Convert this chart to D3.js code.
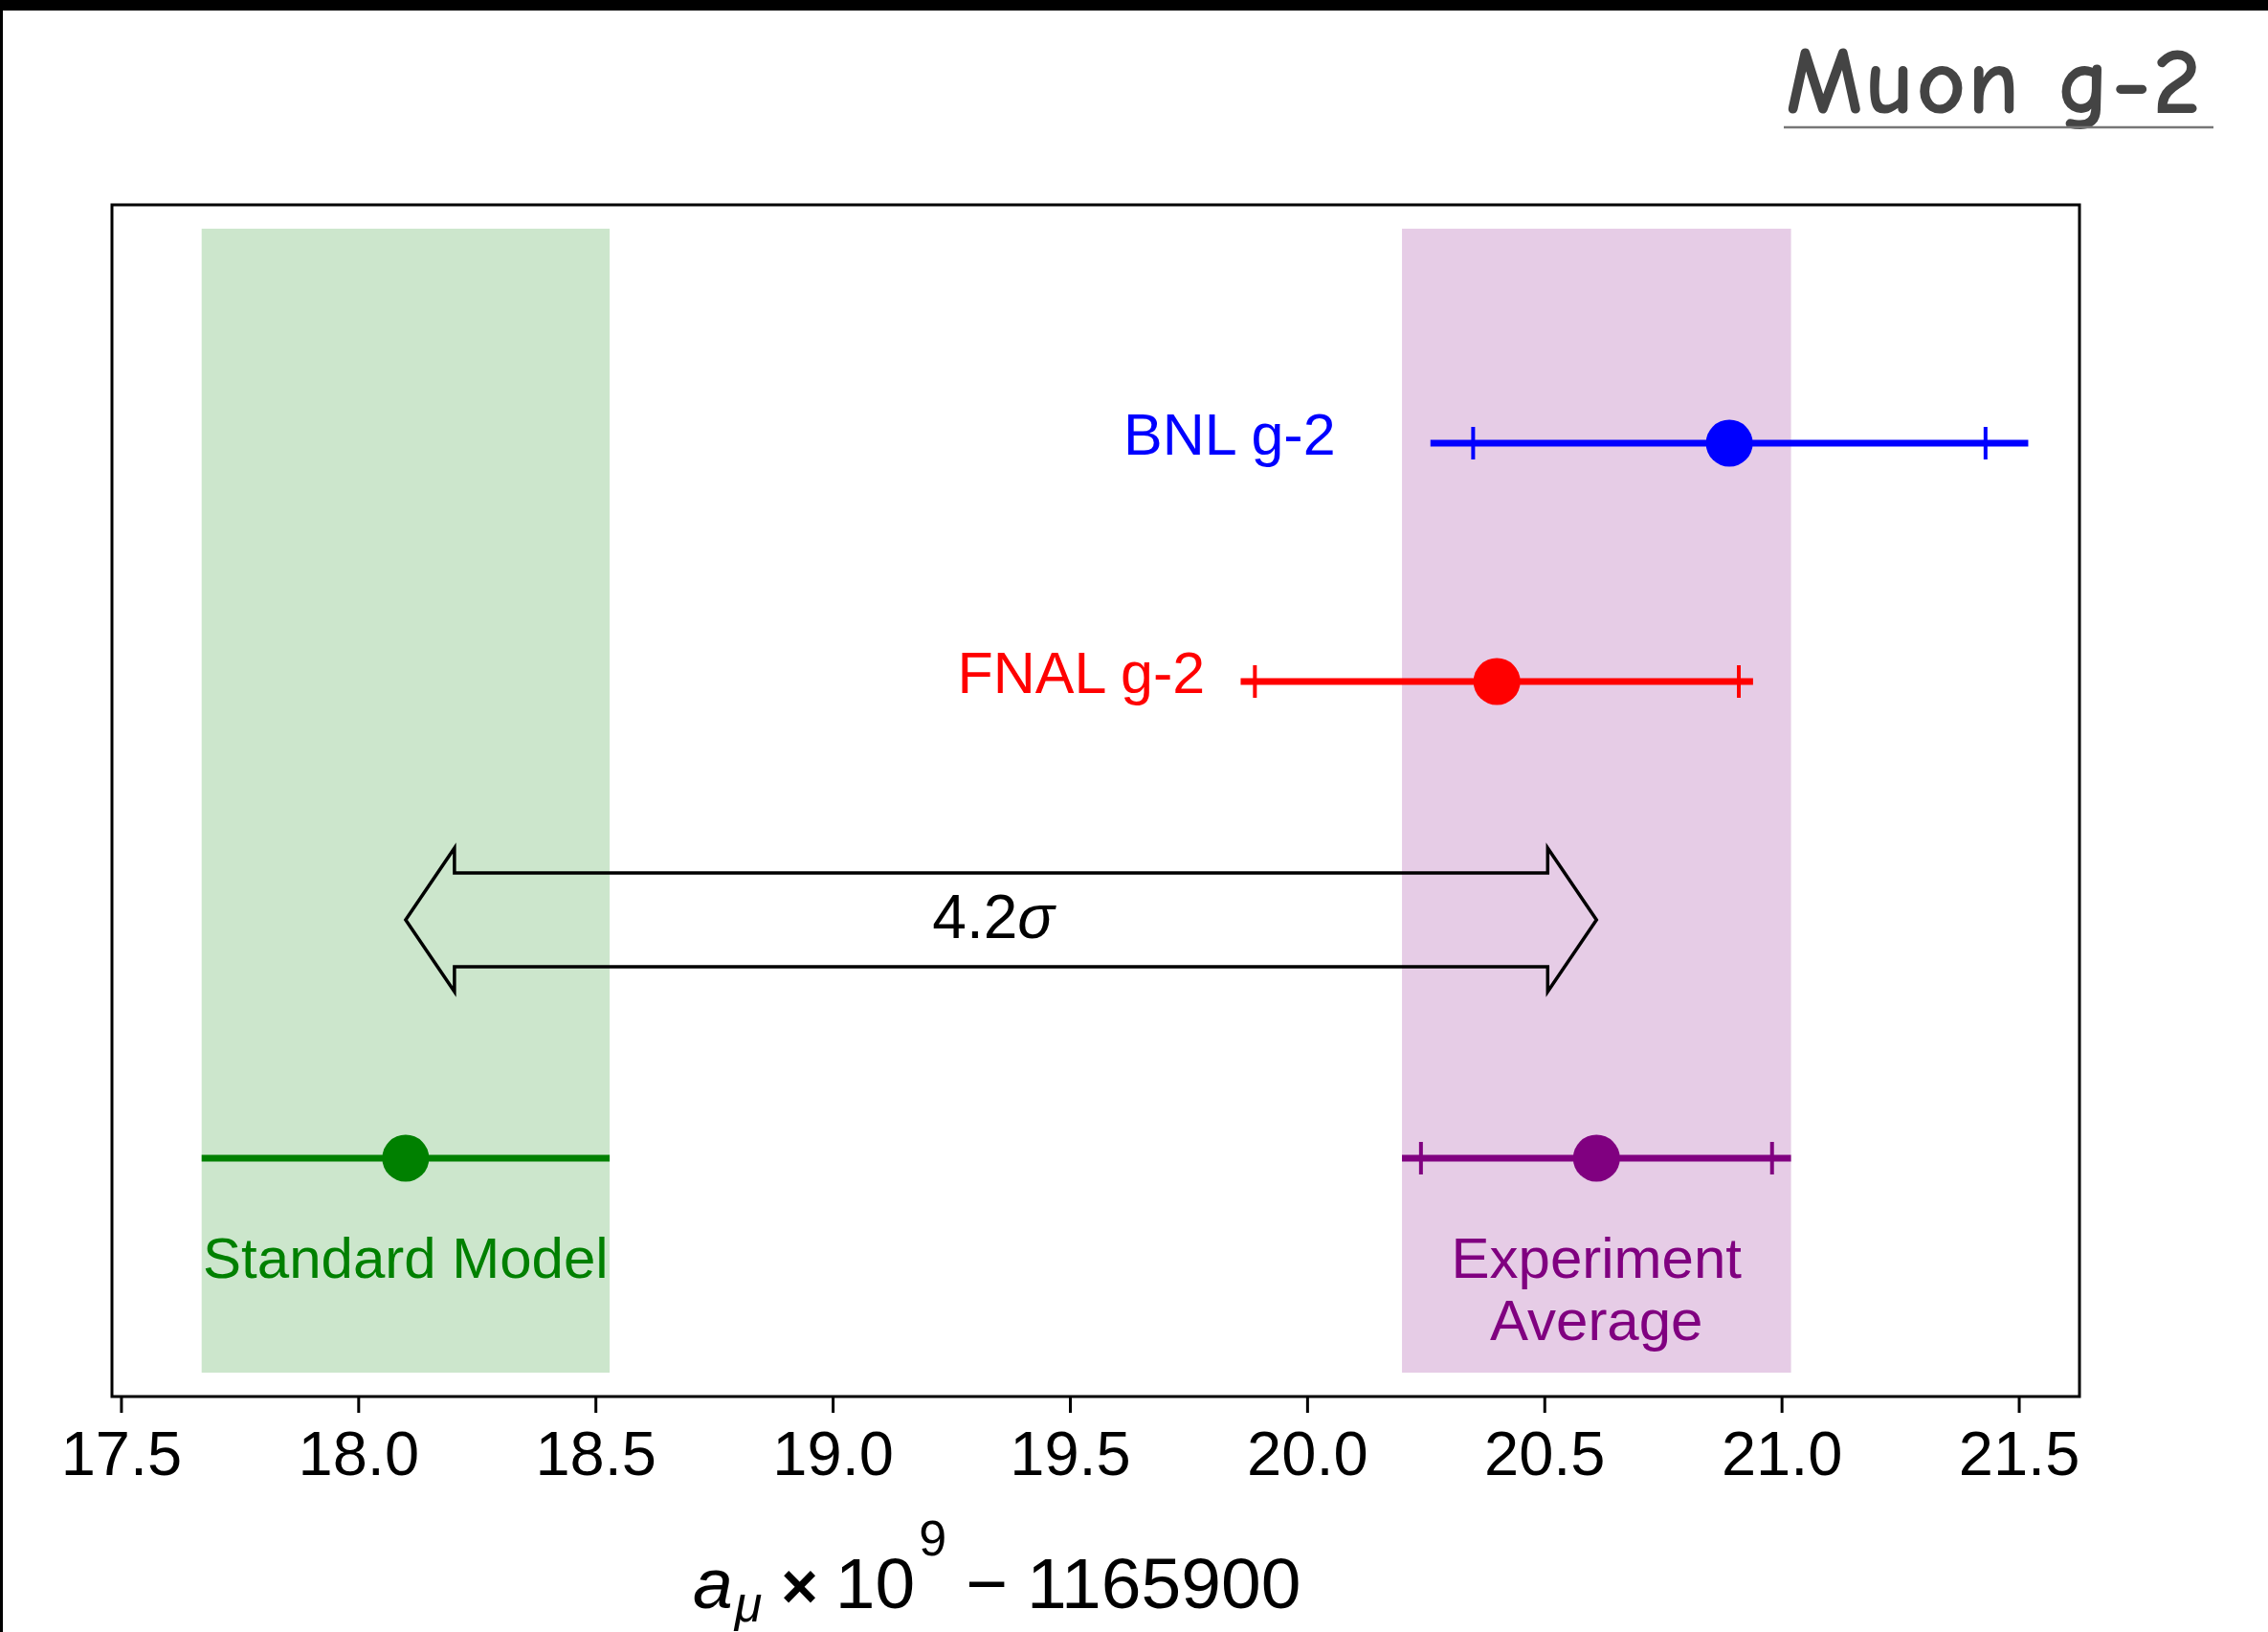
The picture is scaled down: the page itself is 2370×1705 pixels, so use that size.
<!DOCTYPE html>
<html>
<head>
<meta charset="utf-8">
<script src="https://cdn.jsdelivr.net/npm/d3@7"></script>
<style>
  html, body { margin: 0; padding: 0; background: #fff; }
  svg { display: block; }
</style>
</head>
<body>
<svg id="chart" width="2370" height="1705"></svg>
<script>
// Muon anomalous magnetic moment: a_mu x 10^9 - 1165900
const names      = ["Standard Model", "Experiment Average", "FNAL g-2", "BNL g-2"];
const centralVal = [18.10, 20.61, 20.40, 20.89];
const totalErr   = [0.43, 0.41, 0.54, 0.63];
const statErr    = [null, 0.37, 0.51, 0.54];
const rows       = [1, 1, 3, 4];
const colors     = ["#008000", "#800080", "#ff0000", "#0000ff"];
const bandIdx    = [0, 1];            // entries shown as shaded bands
const xTicks     = [17.5, 18.0, 18.5, 19.0, 19.5, 20.0, 20.5, 21.0, 21.5];
const tension    = "4.2";             // sigma between SM and experiment average

const W = 2370, H = 1705;
const box = { left: 117, right: 2173, top: 214, bottom: 1459 };
const font = "'Liberation Sans', Arial, Helvetica, sans-serif";

const svg = d3.select("#chart");

// dark frame edges
svg.append("rect").attr("x", 0).attr("y", 0).attr("width", W).attr("height", H).attr("fill", "#fff");
svg.append("rect").attr("x", 0).attr("y", 0).attr("width", W).attr("height", 11).attr("fill", "#000");
svg.append("rect").attr("x", 0).attr("y", 0).attr("width", 3).attr("height", H).attr("fill", "#000");

const x = d3.scaleLinear().domain([17.481, 21.628]).range([box.left, box.right]);
const y = d3.scaleLinear().domain([0, 5]).range([box.bottom, box.top]);

// shaded 1-sigma bands
svg.append("g").selectAll("rect")
  .data(bandIdx)
  .join("rect")
  .attr("x", i => x(centralVal[i] - totalErr[i]))
  .attr("width", i => x(centralVal[i] + totalErr[i]) - x(centralVal[i] - totalErr[i]))
  .attr("y", y(4.9))
  .attr("height", y(0.1) - y(4.9))
  .attr("fill", i => colors[i])
  .attr("fill-opacity", 0.2);

// double arrow between the SM and experimental averages
const ax0 = x(centralVal[0]), ax1 = x(centralVal[1]), ay = y(2);
const headL = 51, headW = 75, shaftW = 49;
const arrowPts = [
  [ax0, ay],
  [ax0 + headL, ay - headW],
  [ax0 + headL, ay - shaftW],
  [ax1 - headL, ay - shaftW],
  [ax1 - headL, ay - headW],
  [ax1, ay],
  [ax1 - headL, ay + headW],
  [ax1 - headL, ay + shaftW],
  [ax0 + headL, ay + shaftW],
  [ax0 + headL, ay + headW]
];
svg.append("path")
  .attr("d", d3.line()(arrowPts) + "Z")
  .attr("fill", "none")
  .attr("stroke", "#000")
  .attr("stroke-width", 3.5)
  .attr("stroke-linejoin", "miter");

const sigLabel = svg.append("text")
  .attr("x", (ax0 + ax1) / 2 - 8)
  .attr("y", ay + 19)
  .attr("text-anchor", "middle")
  .attr("font-family", font)
  .attr("font-size", 64)
  .attr("fill", "#000");
sigLabel.append("tspan").text(tension);
sigLabel.append("tspan").attr("font-style", "italic").text("σ");

// error bars
const idx = d3.range(names.length);
const bars = svg.append("g");
bars.selectAll("line.err")
  .data(idx)
  .join("line")
  .attr("class", "err")
  .attr("x1", i => x(centralVal[i] - totalErr[i]))
  .attr("x2", i => x(centralVal[i] + totalErr[i]))
  .attr("y1", i => y(rows[i]))
  .attr("y2", i => y(rows[i]))
  .attr("stroke", i => colors[i])
  .attr("stroke-width", 7);

// inner ticks marking the statistical error
const caps = idx.filter(i => statErr[i] !== null)
  .flatMap(i => [{ i, v: centralVal[i] - statErr[i] }, { i, v: centralVal[i] + statErr[i] }]);
bars.selectAll("line.cap")
  .data(caps)
  .join("line")
  .attr("class", "cap")
  .attr("x1", d => x(d.v))
  .attr("x2", d => x(d.v))
  .attr("y1", d => y(rows[d.i]) - 17)
  .attr("y2", d => y(rows[d.i]) + 17)
  .attr("stroke", d => colors[d.i])
  .attr("stroke-width", 4);

bars.selectAll("circle")
  .data(idx)
  .join("circle")
  .attr("cx", i => x(centralVal[i]))
  .attr("cy", i => y(rows[i]))
  .attr("r", 24.5)
  .attr("fill", i => colors[i]);

// measurement labels to the left of the upper error bars
const sideLabelX = { "BNL g-2": 20.06, "FNAL g-2": 19.785 };
svg.append("g").selectAll("text")
  .data(idx.filter(i => sideLabelX[names[i]] !== undefined))
  .join("text")
  .attr("x", i => x(sideLabelX[names[i]]))
  .attr("y", i => y(rows[i]) + 12)
  .attr("text-anchor", "end")
  .attr("font-family", font)
  .attr("font-size", 61)
  .attr("fill", i => colors[i])
  .text(i => names[i]);

// labels under the bands
const underLabels = [
  { i: 0, lines: ["Standard Model"] },
  { i: 1, lines: ["Experiment", "Average"] }
];
underLabels.forEach(u => {
  const t = svg.append("text")
    .attr("text-anchor", "middle")
    .attr("font-family", font)
    .attr("font-size", 60)
    .attr("fill", colors[u.i]);
  u.lines.forEach((s, k) => {
    t.append("tspan")
      .attr("x", x(centralVal[u.i]))
      .attr("y", y(rows[u.i]) + 125 + k * 65)
      .text(s);
  });
});

// axes box
svg.append("rect")
  .attr("x", box.left).attr("y", box.top)
  .attr("width", box.right - box.left).attr("height", box.bottom - box.top)
  .attr("fill", "none").attr("stroke", "#000").attr("stroke-width", 3);

const xAxis = svg.append("g")
  .attr("transform", `translate(0,${box.bottom})`)
  .call(d3.axisBottom(x).tickValues(xTicks).tickFormat(d3.format(".1f")).tickSize(17).tickPadding(19));
xAxis.select(".domain").remove();
xAxis.selectAll(".tick line").attr("stroke", "#000").attr("stroke-width", 3);
xAxis.selectAll(".tick text")
  .attr("font-family", font)
  .attr("font-size", 65)
  .attr("fill", "#000");

// x axis title: a_mu x 10^9 - 1165900
const xt = svg.append("text")
  .attr("x", 724)
  .attr("y", 1680)
  .attr("font-family", font)
  .attr("font-size", 75)
  .attr("fill", "#000");
xt.append("tspan").attr("font-style", "italic").text("a");
xt.append("tspan").attr("font-style", "italic").attr("font-size", 52).attr("dx", 2).attr("dy", 14).text("μ");
xt.append("tspan").attr("dx", 20).attr("dy", -14).attr("font-size", 66).attr("font-weight", "bold").text("×");
xt.append("tspan").attr("dx", 18).text("10");
xt.append("tspan").attr("font-size", 52).attr("dx", 4).attr("dy", -55).text("9");
xt.append("tspan").attr("dx", 20).attr("dy", 55).text("−");
xt.append("tspan").attr("dx", 20).text("1165900");

// corner title
svg.append("text")
  .attr("x", 1866)
  .attr("y", 118)
  .attr("font-family", "'Comic Sans MS', 'Comic Neue', 'Noto Sans', sans-serif")
  .attr("font-size", 100)
  .attr("font-weight", 600)
  .attr("letter-spacing", 2)
  .attr("fill", "#444")
  .text("Muon g-2");
svg.append("line")
  .attr("x1", 1864).attr("x2", 2313)
  .attr("y1", 133).attr("y2", 133)
  .attr("stroke", "#777").attr("stroke-width", 2.5);
</script>
</body>
</html>
